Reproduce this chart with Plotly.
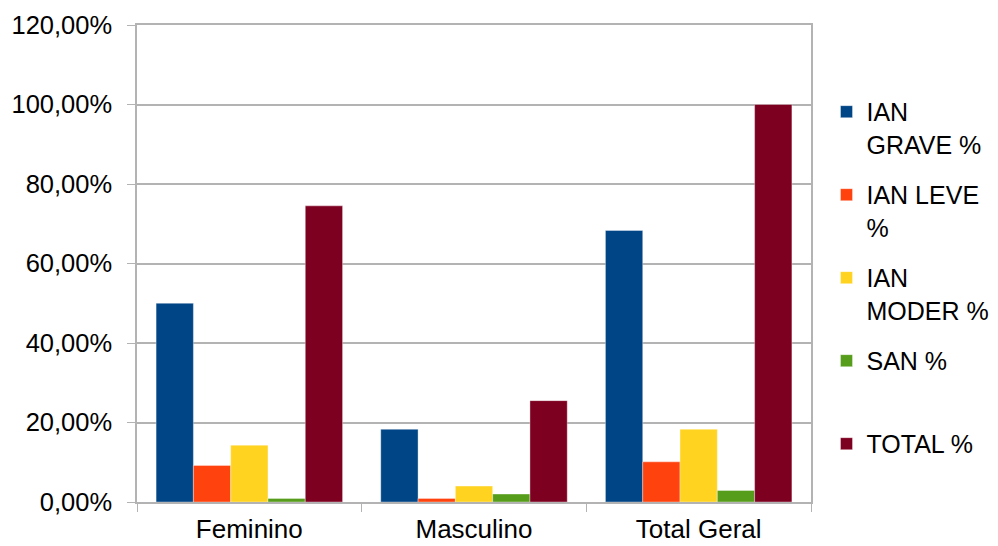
import plotly.graph_objects as go

categories = ["Feminino", "Masculino", "Total Geral"]
series_names = ["IAN<br>GRAVE %", "IAN LEVE<br>%", "IAN<br>MODER %", "SAN %<br> ", "TOTAL %<br> "]
ian_grave = [0.500, 0.183, 0.683]
ian_leve = [0.092, 0.009, 0.101]
ian_moder = [0.143, 0.040, 0.183]
san = [0.009, 0.020, 0.029]
total = [0.745, 0.255, 1.000]
colors = ["#004586", "#ff420e", "#ffd320", "#579d1c", "#7e0021"]
y_ticks = [0, 0.2, 0.4, 0.6, 0.8, 1.0, 1.2]

fig = go.Figure()
for i, (name, vals) in enumerate(zip(series_names, [ian_grave, ian_leve, ian_moder, san, total])):
    fig.add_trace(go.Bar(
        x=categories, y=vals, name=name, legendgroup=str(i),
        marker=dict(color=colors[i], line=dict(width=0.6, color="rgba(255,255,255,0.6)")),
    ))

grid = "#b3b3b3"
fig.update_layout(
    width=998, height=546,
    margin=dict(l=129, r=195, t=17, b=51.5, autoexpand=False),
    paper_bgcolor="white", plot_bgcolor="white",
    barmode="group", bargap=0.17, bargroupgap=0,
    separators=",.",
    font=dict(family="Liberation Sans, Arial, sans-serif", size=25.5, color="black"),
    legend=dict(
        x=1.023, xanchor="left", y=0.866, yanchor="top",
        xref="paper", yref="paper",
        traceorder="grouped", tracegroupgap=15, valign="top",
        font=dict(size=25), itemwidth=30,
    ),
    xaxis=dict(
        showline=True, linecolor=grid, linewidth=1.5, mirror=True,
        ticks="outside", tickson="boundaries", ticklen=8, tickcolor=grid,
        showgrid=False, automargin=False, ticklabelstandoff=3,
        tickfont=dict(size=26),
    ),
    yaxis=dict(
        range=[0, 1.2], tickvals=y_ticks, tickformat=".2%",
        showline=True, linecolor=grid, linewidth=1.5, mirror=True,
        ticks="outside", ticklen=8, tickcolor=grid,
        showgrid=True, gridcolor=grid, gridwidth=1.5,
        zeroline=False, automargin=False, ticklabelstandoff=10,
    ),
)
fig.write_html("out.html")
